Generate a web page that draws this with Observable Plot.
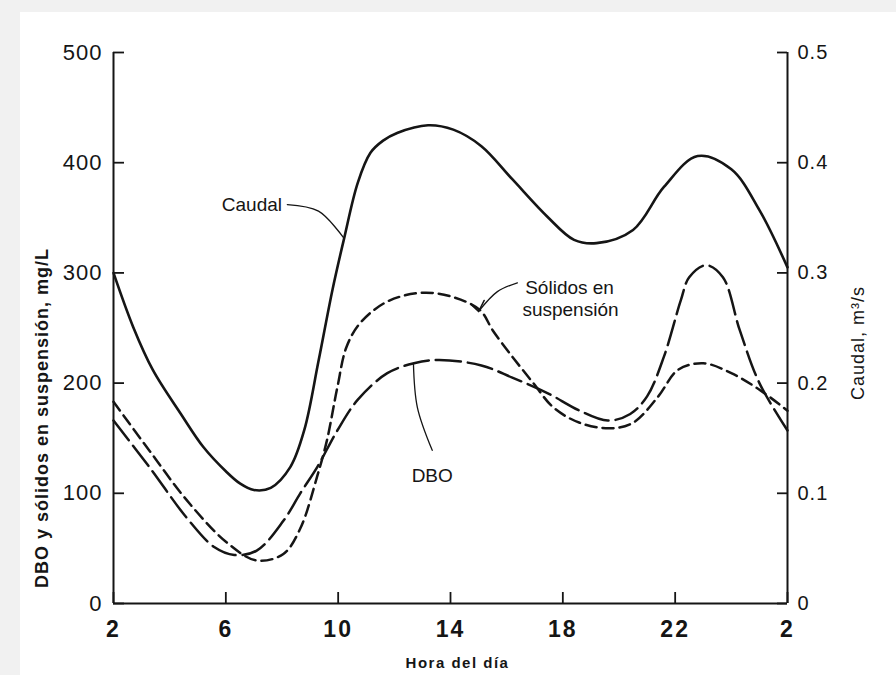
<!DOCTYPE html>
<html><head><meta charset="utf-8">
<script src="https://cdn.jsdelivr.net/npm/d3@7"></script>
<script src="https://cdn.jsdelivr.net/npm/@observablehq/plot@0.6"></script>
<style>
html,body{margin:0;padding:0;background:#f1f1f1;overflow:hidden;}
#panel{position:absolute;left:20px;top:12px;width:876px;height:663px;background:#fff;}
#chart{position:absolute;left:0;top:0;}
</style></head><body><div id="panel"></div><div id="chart"></div>
<script>
// Hours of the day (2 .. 26, where 26 = 2 h of the next day)
const xTicks = [2, 6, 10, 14, 18, 22, 26];
const yTicks = [0, 100, 200, 300, 400, 500];
const caudalTicks = [0, 0.1, 0.2, 0.3, 0.4, 0.5];

// Caudal, m3/s (solid line, right axis)
const caudalHours  = [2, 2.7, 3.4, 4.4, 5.2, 6.0, 6.5, 7.0, 7.6, 8.3, 8.8, 9.3, 9.8, 10.2, 10.7, 11.15, 11.6, 12.1, 13.2, 14.1, 15.1, 16.2, 17.45, 18.4, 19.2, 20.5, 21.6, 22.8, 24.0, 25.0, 26];
const caudalValues = [0.300, 0.251, 0.212, 0.172, 0.142, 0.120, 0.109, 0.103, 0.105, 0.124, 0.158, 0.220, 0.285, 0.330, 0.382, 0.409, 0.420, 0.427, 0.434, 0.430, 0.415, 0.385, 0.351, 0.330, 0.327, 0.339, 0.378, 0.406, 0.394, 0.357, 0.305];

// DBO, mg/L (long dashes)
const dboHours  = [2, 3.3, 4.6, 5.6, 6.3, 7.1, 8.05, 8.65, 9.26, 9.97, 10.7, 11.75, 12.7, 13.6, 15.1, 16.2, 17.45, 18.6, 19.6, 20.4, 21.0, 21.6, 22.2, 22.5, 23.1, 23.7, 24.3, 25.0, 26];
const dboValues = [166, 123, 78, 51, 44, 48, 75, 100, 124, 157, 185, 209, 218, 221, 216, 205, 191, 175, 166, 172, 188, 224, 275, 296, 307, 296, 248, 200, 157];

// Sólidos en suspensión, mg/L (short dashes)
const ssHours  = [2, 3.3, 4.6, 6.05, 7.1, 8.05, 8.65, 9.26, 9.6, 9.97, 10.3, 10.8, 11.75, 13.0, 14.1, 15.06, 15.5, 16.2, 16.95, 17.66, 18.6, 19.7, 20.5, 21.4, 22.1, 23.0, 24.0, 25.0, 26];
const ssValues = [183, 138, 94, 55, 39, 45, 68, 116, 148, 196, 233, 255, 274, 282, 278, 266, 248, 224, 200, 178, 164, 159, 164, 188, 212, 218, 209, 194, 175];

// Annotation leaders (hour, mg/L-equivalent)
const caudalLeader = [[8.19, 362], [9.3, 356], [10.19, 332]];
const ssLeader = [[16.38, 291], [15.67, 283], [15.0, 265]];
const ssTick = [[14.75, 271], [15.0, 265], [15.2, 275]];
const dboLeader = [[12.68, 218], [12.82, 178], [13.35, 139]];

const Q = 1000; // caudal m3/s drawn on the mg/L scale (0.1 m3/s = 100 mg/L)
const toRows = (hs, vs, k = 1) => hs.map((h, i) => ({h, v: vs[i] * k}));
const caudal = toRows(caudalHours, caudalValues, Q);
const dbo = toRows(dboHours, dboValues);
const ss = toRows(ssHours, ssValues);
const pts = a => a.map(([h, v]) => ({h, v}));

const W = 896, H = 675, mL = 113, mR = 109, mT = 52, mB = 72;
const xDomain = [2, 26], yDomain = [0, 500];
// inward tick length, converted from pixels to data units
const pxPerHour = (W - mL - mR) / (xDomain[1] - xDomain[0]);
const pxPerUnit = (H - mT - mB) / (yDomain[1] - yDomain[0]);
const tickX = 11 / pxPerUnit, tickYL = 11 / pxPerHour, tickYR = 10 / pxPerHour;

const ink = "#151515";
const font = "'Liberation Sans', Arial, sans-serif";

const chart = Plot.plot({
  width: W, height: H,
  marginLeft: mL, marginRight: mR, marginTop: mT, marginBottom: mB,
  style: {fontFamily: font, color: ink, background: "transparent", overflow: "visible"},
  x: {domain: xDomain},
  y: {domain: yDomain},
  marks: [
    Plot.ruleX([2], {y1: 0, y2: 500, stroke: ink, strokeWidth: 2}),
    Plot.ruleX([26], {y1: 0, y2: 500, stroke: ink, strokeWidth: 2}),
    Plot.ruleY([0], {x1: 2, x2: 26, stroke: ink, strokeWidth: 2}),
    // inward tick marks
    Plot.ruleX(xTicks, {x: d => d, y1: 0, y2: tickX, stroke: ink, strokeWidth: 1.8}),
    Plot.ruleY(yTicks, {y: d => d, x1: 2, x2: 2 + tickYL, stroke: ink, strokeWidth: 1.8}),
    Plot.ruleY(caudalTicks, {y: d => d * Q, x1: 26 - tickYR, x2: 26, stroke: ink, strokeWidth: 1.8}),
    Plot.axisX({ticks: xTicks, tickFormat: d => d > 24 ? String(d - 24) : String(d), tickSize: 0, tickPadding: 17, fontSize: 23, fontWeight: "bold", label: null}),
    Plot.axisY({anchor: "left", ticks: yTicks, tickSize: 0, tickPadding: 11, fontSize: 22, label: null}),
    Plot.axisY({anchor: "right", ticks: caudalTicks.map(d => d * Q), tickFormat: d => d === 0 ? "0" : (d / Q).toFixed(1), tickSize: 0, tickPadding: 10, fontSize: 20, label: null}),
    Plot.line(caudal, {x: "h", y: "v", curve: "catmull-rom", stroke: ink, strokeWidth: 2.6}),
    Plot.line(dbo, {x: "h", y: "v", curve: "catmull-rom", stroke: ink, strokeWidth: 2.5, strokeDasharray: "25,7"}),
    Plot.line(ss, {x: "h", y: "v", curve: "catmull-rom", stroke: ink, strokeWidth: 2.5, strokeDasharray: "11,6"}),
    Plot.line(pts(caudalLeader), {x: "h", y: "v", curve: "catmull-rom", stroke: ink, strokeWidth: 1.3}),
    Plot.line(pts(ssLeader), {x: "h", y: "v", curve: "catmull-rom", stroke: ink, strokeWidth: 1.3}),
    Plot.line(pts(ssTick), {x: "h", y: "v", stroke: ink, strokeWidth: 1.5}),
    Plot.line(pts(dboLeader), {x: "h", y: "v", curve: "catmull-rom", stroke: ink, strokeWidth: 1.3}),
    Plot.text(["Caudal"], {x: 8.0, y: 362, textAnchor: "end", fontSize: 19, fill: ink}),
    Plot.text(["Sólidos en"], {x: 16.66, y: 286, textAnchor: "start", fontSize: 19, fill: ink}),
    Plot.text(["suspensión"], {x: 16.56, y: 266, textAnchor: "start", fontSize: 19, fill: ink}),
    Plot.text(["DBO"], {x: 13.35, y: 116, textAnchor: "middle", fontSize: 19, fill: ink}),
    Plot.text(["DBO y sólidos en suspensión, mg/L"], {frameAnchor: "left", textAnchor: "middle", lineAnchor: "middle", dx: -71, dy: 90, rotate: -90, fontSize: 18, fontWeight: "bold", fill: ink}),
    Plot.text(["Caudal, m³/s"], {frameAnchor: "right", textAnchor: "middle", lineAnchor: "middle", dx: 71, dy: 15, rotate: -90, fontSize: 18, fill: ink}),
    Plot.text(["Hora del día"], {frameAnchor: "bottom", textAnchor: "middle", lineAnchor: "middle", dx: 7, dy: 60, fontSize: 15, fontWeight: "bold", fill: ink})
  ]
});
document.getElementById("chart").appendChild(chart);
// scanned lettering is wide: add letter spacing to the axis titles and tick labels
d3.select(chart).selectAll("text").each(function () {
  const t = this.textContent;
  if (t.startsWith("DBO y")) this.setAttribute("letter-spacing", "1");
  else if (t.startsWith("Caudal,")) this.setAttribute("letter-spacing", "1");
  else if (t.startsWith("Hora")) this.setAttribute("letter-spacing", "1.5");
});
d3.select(chart).selectAll("g[aria-label='x-axis tick label'] text").attr("letter-spacing", "2");
d3.select(chart).selectAll("g[aria-label='y-axis tick label'] text").attr("letter-spacing", "1");
</script>
</body></html>
